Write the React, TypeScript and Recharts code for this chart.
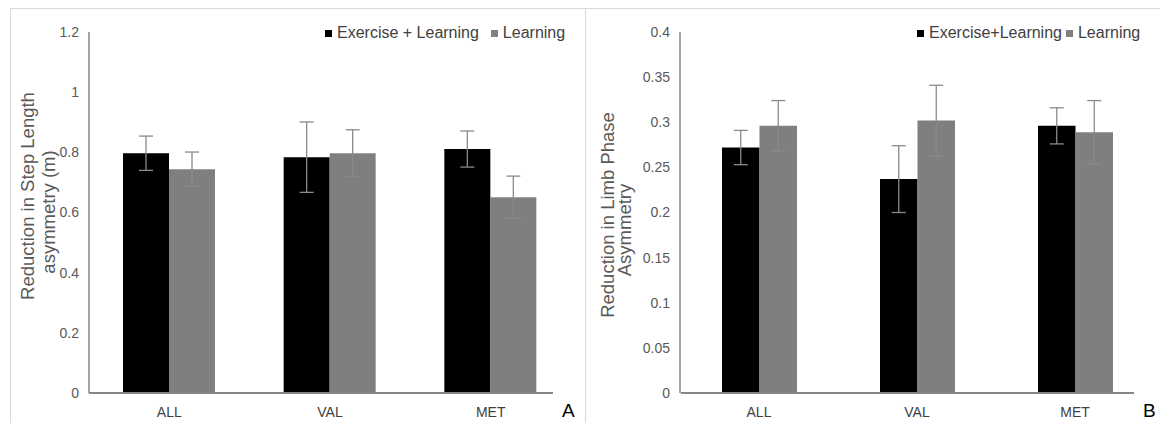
import React from 'react'
import { BarChart, Bar, XAxis, YAxis, ErrorBar } from 'recharts'

const categories = ['ALL', 'VAL', 'MET']
const seriesNamesA = ['Exercise + Learning', 'Learning']
const seriesNamesB = ['Exercise+Learning', 'Learning']

// panel A: step length asymmetry (m)
const stepExLearn = [0.797, 0.784, 0.811]
const stepExLearnErr = [0.057, 0.117, 0.06]
const stepLearn = [0.744, 0.797, 0.651]
const stepLearnErr = [0.057, 0.078, 0.07]

// panel B: limb phase asymmetry
const phaseExLearn = [0.272, 0.237, 0.296]
const phaseExLearnErr = [0.019, 0.037, 0.02]
const phaseLearn = [0.296, 0.302, 0.289]
const phaseLearnErr = [0.028, 0.039, 0.035]

const ticksA = [0, 0.2, 0.4, 0.6, 0.8, 1, 1.2]
const ticksB = [0, 0.05, 0.1, 0.15, 0.2, 0.25, 0.3, 0.35, 0.4]

const FONT = '"Liberation Sans", Arial, sans-serif'
const BLACK = '#000000'
const GRAY = '#7f7f7f'
const AXIS = '#868686'
const TEXT = '#595959'
const ERR = '#8a8a8a'

const dataA = categories.map((c, i) => ({
  cat: c, ex: stepExLearn[i], exErr: stepExLearnErr[i], lr: stepLearn[i], lrErr: stepLearnErr[i],
}))
const dataB = categories.map((c, i) => ({
  cat: c, ex: phaseExLearn[i], exErr: phaseExLearnErr[i], lr: phaseLearn[i], lrErr: phaseLearnErr[i],
}))

type TitleLine = { text: string; x: number; y: number }

function YTitle({ lines }: { lines: TitleLine[] }) {
  return (
    <g>
      {lines.map(l => (
        <text
          key={l.text}
          x={l.x}
          y={l.y}
          transform={`rotate(-90 ${l.x} ${l.y})`}
          textAnchor="middle"
          dominantBaseline="central"
          fontSize={18.5}
          fontFamily={FONT}
          fill={TEXT}
        >
          {l.text}
        </text>
      ))}
    </g>
  )
}

function Legend({ names, left, gap }: { names: string[]; left: number; gap: number }) {
  return (
    <div style={{ position: 'absolute', left, top: 16, display: 'flex', gap, fontSize: 16, fontFamily: FONT, color: '#404040', whiteSpace: 'nowrap' }}>
      {names.map((n, i) => (
        <div key={n} style={{ display: 'flex', alignItems: 'center', gap: 5 }}>
          <span style={{ width: 7, height: 7, background: i === 0 ? BLACK : GRAY, display: 'inline-block' }} />
          <span>{n}</span>
        </div>
      ))}
    </div>
  )
}

type PanelProps = {
  data: typeof dataA
  ticks: number[]
  barSize: number
  left: number
  right: number
  title: TitleLine[]
}

function Panel({ data, ticks, barSize, left, right, title }: PanelProps) {
  const tickStyle = { fill: TEXT, fontSize: 14, fontFamily: FONT }
  return (
    <BarChart
      width={575}
      height={415}
      data={data}
      margin={{ top: 24, right, left: 0, bottom: 0 }}
      barGap={0}
      barSize={barSize}
    >
      <XAxis
        dataKey="cat"
        axisLine={false}
        tickLine={false}
        tickSize={0}
        tickMargin={14}
        height={30}
        tick={{ ...tickStyle, fill: '#404040' }}
        interval={0}
      />
      <YAxis
        domain={[ticks[0], ticks[ticks.length - 1]]}
        ticks={ticks}
        width={left}
        axisLine={{ stroke: AXIS, strokeWidth: 1.5 }}
        tickLine={false}
        tickSize={0}
        tickMargin={10}
        tick={tickStyle}
        tickFormatter={v => String(v)}
        label={{ content: () => <YTitle lines={title} /> }}
      />
      <Bar dataKey="ex" fill={BLACK} isAnimationActive={false}>
        <ErrorBar dataKey="exErr" width={7} stroke={ERR} strokeWidth={1.3} />
      </Bar>
      <Bar dataKey="lr" fill={GRAY} isAnimationActive={false}>
        <ErrorBar dataKey="lrErr" width={7} stroke={ERR} strokeWidth={1.3} />
      </Bar>
    </BarChart>
  )
}

export default function App() {
  return (
    <div style={{ position: 'absolute', left: 0, top: 0, width: 1160, height: 423, overflow: 'hidden', background: '#fff', fontFamily: FONT }}>
      <div style={{ position: 'absolute', left: 10, top: 8, width: 1200, height: 500, borderLeft: '1px solid #d9d9d9', borderTop: '1px solid #d9d9d9' }} />
      <div style={{ position: 'absolute', left: 585, top: 8, width: 1, height: 420, background: '#d9d9d9' }} />

      <div style={{ position: 'absolute', left: 10, top: 8 }}>
        <Panel
          data={dataA}
          ticks={ticksA}
          barSize={46}
          left={79}
          right={14}
          title={[
            { text: 'Reduction in Step Length', x: 17, y: 188 },
            { text: 'asymmetry (m)', x: 38, y: 204 },
          ]}
        />
        <div style={{ position: 'absolute', left: 79, top: 384, width: 464, height: 1.5, background: AXIS }} />
        <Legend names={seriesNamesA} left={315} gap={12} />
        <div style={{ position: 'absolute', left: 552, top: 392, fontSize: 19, lineHeight: '22px', color: '#000' }}>A</div>
      </div>

      <div style={{ position: 'absolute', left: 585, top: 8 }}>
        <Panel
          data={dataB}
          ticks={ticksB}
          barSize={37.5}
          left={95}
          right={6}
          title={[
            { text: 'Reduction in Limb Phase', x: 22, y: 207 },
            { text: 'Asymmetry', x: 39, y: 222 },
          ]}
        />
        <div style={{ position: 'absolute', left: 96, top: 384, width: 453, height: 1.5, background: AXIS }} />
        <Legend names={seriesNamesB} left={332} gap={4} />
        <div style={{ position: 'absolute', left: 558, top: 392, fontSize: 19, lineHeight: '22px', color: '#000' }}>B</div>
      </div>
    </div>
  )
}
